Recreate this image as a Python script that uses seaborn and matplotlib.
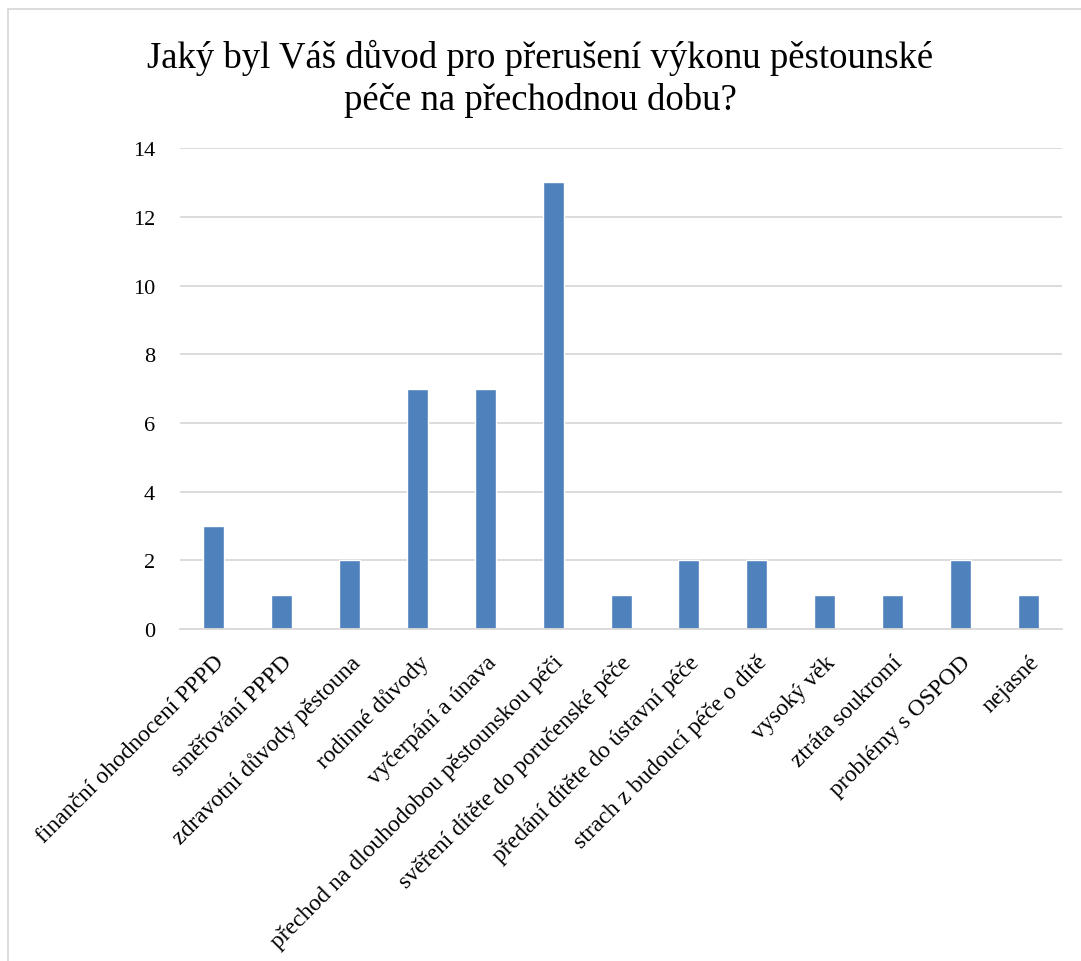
import pandas as pd
import seaborn as sns
import matplotlib.pyplot as plt
from matplotlib.lines import Line2D

# data
categories = [
    "finanční ohodnocení PPPD",
    "směřování PPPD",
    "zdravotní důvody pěstouna",
    "rodinné důvody",
    "vyčerpání a únava",
    "přechod na dlouhodobou pěstounskou péči",
    "svěření dítěte do poručenské péče",
    "předání dítěte do ústavní péče",
    "strach z budoucí péče o dítě",
    "vysoký věk",
    "ztráta soukromí",
    "problémy s OSPOD",
    "nejasné",
]
counts = [3, 1, 2, 7, 7, 13, 1, 2, 2, 1, 1, 2, 1]
y_ticks = [0, 2, 4, 6, 8, 10, 12, 14]
title = "Jaký byl Váš důvod pro přerušení výkonu pěstounské\npéče na přechodnou dobu?"

df = pd.DataFrame({"reason": categories, "count": counts})

sns.set_style("white")
plt.rcParams["font.family"] = ["Liberation Serif", "DejaVu Serif"]
plt.rcParams["text.color"] = "black"
plt.rcParams["xtick.color"] = "black"
plt.rcParams["ytick.color"] = "black"

fig = plt.figure(figsize=(10.81, 9.62), dpi=100)
ax = fig.add_axes([0.1665, 0.345, 0.816, 0.5])

sns.barplot(data=df, x="reason", y="count", color="#4F81BD",
            width=0.31, saturation=1, ax=ax)

ax.set_ylim(0, 14)
ax.set_yticks(y_ticks)
ax.set_yticklabels([str(v) for v in y_ticks], fontsize=16)
ax.yaxis.grid(True, color="#D9D9D9", linewidth=1.3)
ax.set_axisbelow(True)
for side in ["left", "right", "top"]:
    ax.spines[side].set_visible(False)
ax.spines["bottom"].set_color("#D9D9D9")
ax.spines["bottom"].set_linewidth(1.3)
ax.tick_params(axis="y", length=0, pad=18)

ax.set_xticks(range(len(categories)))
ax.set_xticklabels(categories, rotation=45, ha="right", va="top",
                   rotation_mode="anchor", fontsize=17)
ax.tick_params(axis="x", length=0, pad=16)
ax.set_xlabel("")
ax.set_ylabel("")

fig.text(0.5, 0.918, title, ha="center", va="center", fontsize=26.5,
         linespacing=1.25)

# chart frame (only top and left edges visible in the reference)
fig.add_artist(Line2D([0.0074, 1.0], [0.9896, 0.9896], color="#D9D9D9",
                      linewidth=1.3, transform=fig.transFigure))
fig.add_artist(Line2D([0.0074, 0.0074], [0.0, 0.9896], color="#D9D9D9",
                      linewidth=1.3, transform=fig.transFigure))

fig.savefig("out.png", dpi=100)
